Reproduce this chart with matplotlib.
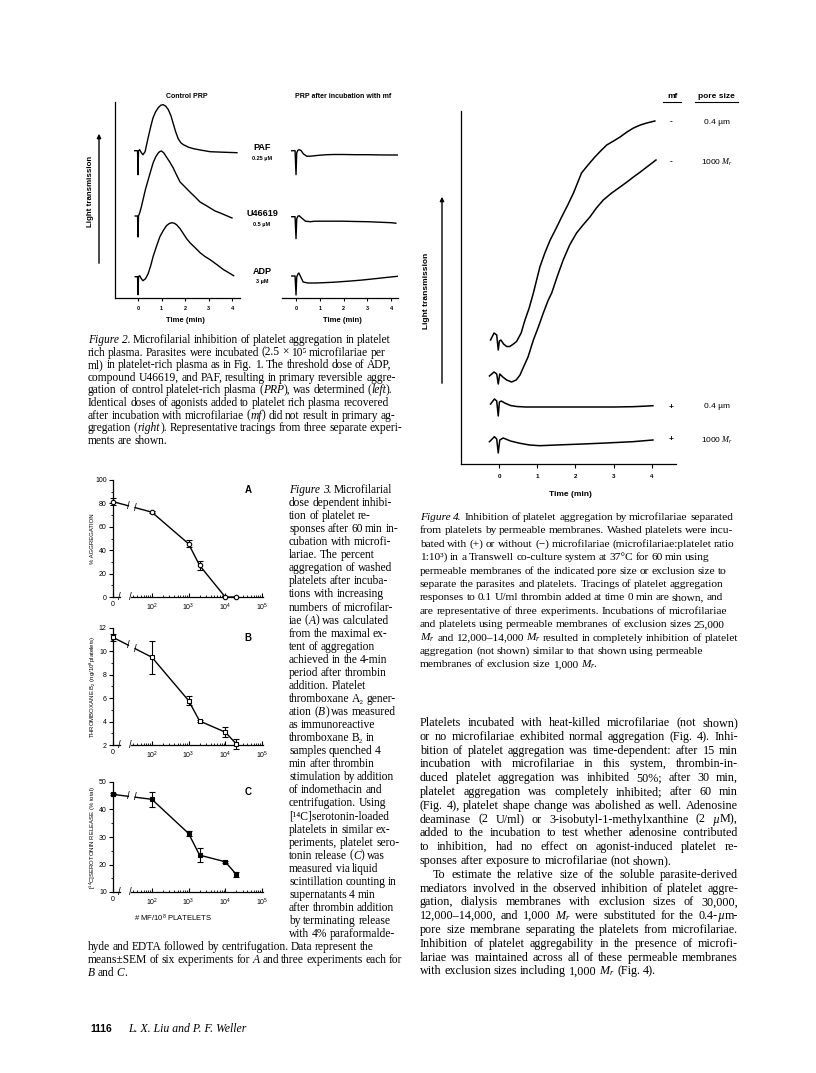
#!/usr/bin/python3
# page 1116: platelet aggregation figures 2-4 with captions and text
import matplotlib
matplotlib.use("Agg")
import matplotlib.pyplot as plt
import numpy as np

W, H = 816, 1073
SERIF = ["Liberation Serif", "DejaVu Serif"]
SANS = "Liberation Sans"

plt.rcParams.update({
    "font.family": [SANS, "DejaVu Sans"],
    "mathtext.fontset": "custom",
    "mathtext.rm": "Liberation Serif",
    "mathtext.it": "Liberation Serif:italic",
    "mathtext.bf": "Liberation Serif:bold",
    "mathtext.sf": SANS,
    "axes.linewidth": 0.9,
})

# ---- Figure 2: aggregometer tracings, time (min) vs deflection (arb. units) ----
f2_agonists = ["PAF", "U46619", "ADP"]
f2_doses = ["0.25 µM", "0.5 µM", "3 µM"]
f2_ctrl_t = [
    [-0.14, -0.02, 0, 0.02, 0.07, 0.14, 0.21, 0.3, 0.43, 0.55, 0.64, 0.75, 0.86, 0.97, 1.07,
     1.18, 1.29, 1.4, 1.5, 1.6, 1.71, 1.82, 1.93, 2.15, 2.36, 2.7, 3.07, 3.6, 4.21],
    [-0.12, -0.02, 0, 0.02, 0.07, 0.14, 0.21, 0.32, 0.43, 0.54, 0.64, 0.75, 0.86, 0.93, 1.0,
     1.1, 1.21, 1.35, 1.5, 1.64, 1.79, 2.0, 2.21, 2.43, 2.64, 2.86, 3.07, 3.28, 3.5, 3.75, 4.0],
    [-0.12, -0.02, 0, 0.02, 0.07, 0.14, 0.21, 0.32, 0.43, 0.54, 0.64, 0.78, 0.93, 1.07, 1.21,
     1.32, 1.43, 1.54, 1.64, 1.79, 1.93, 2.07, 2.21, 2.43, 2.64, 2.86, 3.07, 3.36, 3.64, 3.86, 4.07],
]
f2_ctrl_v = [
    [0, 0, -24, 0, 1, -2, -4, -1, 13, 25, 33, 39, 43, 45.5, 46,
     44.5, 41, 35, 27, 19, 12, 8, 6, 3.5, 2, 0.5, -1, -1.5, -2],
    [0, 0, -21, 0, 3, 9, 16, 27, 36, 45, 53, 59, 63, 64.5, 65,
     63, 59, 54, 48, 41, 34, 29, 24, 19, 14, 11, 8, 5, 3, 0.5, -2],
    [0, 0, -18, 0, 1, -2, -4, -2, 3, 11, 20, 30, 40, 46, 51,
     53, 54, 53.5, 52, 48, 43, 38, 34, 29, 24, 20, 17, 12, 7, 4, 1],
]
f2_mf_t = [
    [-0.18, -0.04, 0, 0.03, 0.08, 0.14, 0.22, 0.3, 0.45, 0.6, 0.8, 1.0, 1.3, 1.6, 2.0, 2.5, 3.0, 3.5, 4.0, 4.3],
    [-0.18, -0.04, 0, 0.03, 0.08, 0.13, 0.22, 0.4, 0.6, 0.8, 1.2, 1.6, 2.0, 2.5, 3.0, 3.5, 4.0, 4.2],
    [-0.18, -0.04, 0, 0.03, 0.08, 0.12, 0.18, 0.3, 0.5, 0.8, 1.15, 1.6, 2.0, 2.3, 2.8, 3.4, 3.9, 4.4],
]
f2_mf_v = [
    [0, 0, -24, -2, 0.5, 1, 0, -3, -5.5, -5.5, -5, -4.5, -4, -3.8, -3.8, -4, -4, -4.2, -4.3, -4.3],
    [0, 0, -22, -2, 0.5, 1, -1, -4.5, -5, -4.5, -4.5, -4.5, -4.5, -4.8, -5, -5.5, -6, -6.5],
    [0, 0, -19, -1, 2, 3, 0, -6, -7, -7, -6.7, -6.2, -5.5, -5, -4, -2.5, -1.2, 0],
]
f2_ctrl_base = [147.3, 82, 21.3]
f2_mf_base = [147.3, 81.3, 22]

# ---- Figure 3: dose response (MF per 10^8 platelets) ----
mf_dose = [0, 1e2, 1e3, 2e3, 1e4, 2e4]
agg_pct = [81.5, 72.5, 45.5, 27, 0, 0]
agg_err = [3, 1, 3, 4, 0, 0]
txb2 = [11.2, 9.5, 5.8, 4.05, 3.1, 2.1]
txb2_err = [0.3, 1.4, 0.35, 0.1, 0.4, 0.4]
sero = [45.5, 43.7, 31.3, 23.4, 21.0, 16.4]
sero_err = [0.4, 2.8, 0.8, 2.5, 0.4, 0.8]

# ---- Figure 4: transwell tracings ----
f4_mf = ["-", "-", "+", "+"]
f4_pore = ["0.4 µm", "1000 $M_r$", "0.4 µm", "1000 $M_r$"]
f4_t = [
    [-0.22, -0.13, -0.06, -0.02, 0.01, 0.05, 0.12, 0.2, 0.28, 0.36, 0.46, 0.58, 0.68, 0.79, 0.9,
     1.07, 1.2, 1.34, 1.5, 1.64, 1.8, 1.95, 2.16, 2.33, 2.51, 2.66, 2.82, 3.0, 3.17, 3.35, 3.52,
     3.7, 3.87, 4.08],
    [-0.25, -0.13, -0.06, -0.02, 0.02, 0.1, 0.2, 0.33, 0.45, 0.55, 0.63, 0.76, 0.9, 1.03, 1.16,
     1.29, 1.38, 1.52, 1.68, 1.85, 2.03, 2.2, 2.38, 2.55, 2.73, 2.95, 3.17, 3.35, 3.52, 3.7, 3.87, 4.11],
    [-0.22, -0.12, -0.06, -0.02, 0.01, 0.06, 0.15, 0.3, 0.46, 0.7, 1.0, 1.5, 2.0, 2.5, 3.0, 3.5, 3.8, 4.03],
    [-0.25, -0.12, -0.06, -0.02, 0.02, 0.11, 0.3, 0.55, 0.8, 1.07, 1.5, 2.2, 2.8, 3.5, 4.03],
]
f4_v = [
    [-2, 5, 3, -12, -3, -2, -6, -8.5, -8.5, -6.5, -3.5, 5, 18, 30, 45,
     71, 85, 98, 110, 121, 133, 145, 165, 173, 181, 187, 193, 197, 201, 206, 210,
     213, 215, 217],
    [-1, 3, 1, -9, 1, -2, -5, -7, -5, 0, 7, 18, 35, 48, 62,
     75, 82, 98, 115, 130, 142, 150, 158, 167, 175, 182, 188, 193, 198, 203, 208, 215],
    [-1, 4, 2, -13, 1, 2, 0, -2.5, -3.5, -4, -4, -4, -4, -4, -4, -3.7, -3.2, -2.7],
    [-1.7, 3.3, 1, -13, 0, 2, -1, -3.3, -5, -5.7, -5, -4, -3, -1.7, 0],
]
f4_base = [126, 89, 61, 24]

# ---- text (*...* = italic) ----
cap2 = [
    "*Figure 2.* Microfilarial inhibition of platelet aggregation in platelet",
    "rich plasma. Parasites were incubated (2.5 × 10⁵ microfilariae per",
    "ml) in platelet-rich plasma as in Fig. 1. The threshold dose of ADP,",
    "compound U46619, and PAF, resulting in primary reversible aggre-",
    "gation of control platelet-rich plasma (*PRP*), was determined (*left*).",
    "Identical doses of agonists added to platelet rich plasma recovered",
    "after incubation with microfilariae (*mf*) did not result in primary ag-",
    "gregation (*right*). Representative tracings from three separate experi-",
    "ments are shown.",
]
cap3 = [
    "*Figure 3.* Microfilarial", "dose dependent inhibi-", "tion of platelet re-",
    "sponses after 60 min in-", "cubation with microfi-", "lariae. The percent",
    "aggregation of washed", "platelets after incuba-", "tions with increasing",
    "numbers of microfilar-", "iae (*A*) was calculated", "from the maximal ex-",
    "tent of aggregation", "achieved in the 4-min", "period after thrombin",
    "addition. Platelet", "thromboxane A₂ gener-", "ation (*B*) was measured",
    "as immunoreactive", "thromboxane B₂ in", "samples quenched 4",
    "min after thrombin", "stimulation by addition", "of indomethacin and",
    "centrifugation. Using", "[¹⁴C]serotonin-loaded", "platelets in similar ex-",
    "periments, platelet sero-", "tonin release (*C*) was", "measured via liquid",
    "scintillation counting in", "supernatants 4 min", "after thrombin addition",
    "by terminating release", "with 4% paraformalde-",
]
cap3_tail = [
    "hyde and EDTA followed by centrifugation. Data represent the",
    "means±SEM of six experiments for *A* and three experiments each for",
    "*B* and *C*.",
]
cap4 = [
    "*Figure 4.* Inhibition of platelet aggregation by microfilariae separated",
    "from platelets by permeable membranes. Washed platelets were incu-",
    "bated with (+) or without (−) microfilariae (microfilariae:platelet ratio",
    "1:10³) in a Transwell co-culture system at 37°C for 60 min using",
    "permeable membranes of the indicated pore size or exclusion size to",
    "separate the parasites and platelets. Tracings of platelet aggregation",
    "responses to 0.1 U/ml thrombin added at time 0 min are shown, and",
    "are representative of three experiments. Incubations of microfilariae",
    "and platelets using permeable membranes of exclusion sizes 25,000",
    "$M_r$ and 12,000–14,000 $M_r$ resulted in completely inhibition of platelet",
    "aggregation (not shown) similar to that shown using permeable",
    "membranes of exclusion size 1,000 $M_r$.",
]
body = [
    "Platelets incubated with heat-killed microfilariae (not shown)",
    "or no microfilariae exhibited normal aggregation (Fig. 4). Inhi-",
    "bition of platelet aggregation was time-dependent: after 15 min",
    "incubation with microfilariae in this system, thrombin-in-",
    "duced platelet aggregation was inhibited 50%; after 30 min,",
    "platelet aggregation was completely inhibited; after 60 min",
    "(Fig. 4), platelet shape change was abolished as well. Adenosine",
    "deaminase (2 U/ml) or 3-isobutyl-1-methylxanthine (2 *µ*M),",
    "added to the incubation to test whether adenosine contributed",
    "to inhibition, had no effect on agonist-induced platelet re-",
    "sponses after exposure to microfilariae (not shown).",
    "To estimate the relative size of the soluble parasite-derived",
    "mediators involved in the observed inhibition of platelet aggre-",
    "gation, dialysis membranes with exclusion sizes of 30,000,",
    "12,000–14,000, and 1,000 $M_r$ were substituted for the 0.4-*µ*m-",
    "pore size membrane separating the platelets from microfilariae.",
    "Inhibition of platelet aggregability in the presence of microfi-",
    "lariae was maintained across all of these permeable membranes",
    "with exclusion sizes including 1,000 $M_r$ (Fig. 4).",
]
body_last = [10, 18]
body_indent = [11]

fig = plt.figure(figsize=(W / 100, H / 100), dpi=100)
page = fig.add_axes([0, 0, 1, 1])
page.set_xlim(0, W)
page.set_ylim(H, 0)
page.axis("off")
renderer = fig.canvas.get_renderer()


def px_axes(x0, y0, x1, y1):
    return fig.add_axes([x0 / W, 1 - y1 / H, (x1 - x0) / W, (y1 - y0) / H])


def bare(ax, left=True):
    for s in ["top", "right"]:
        ax.spines[s].set_visible(False)
    ax.spines["left"].set_visible(left)
    ax.set_yticks([])
    ax.patch.set_alpha(0)


def serif_line(x, y, s, size, right=None):
    # words laid out one by one; right edge given -> justified
    italic = False
    placed = []
    for w in s.split(" "):
        segs = []
        for k, part in enumerate(w.split("*")):
            if k > 0:
                italic = not italic
            if part:
                t = page.text(0, y, part, fontsize=size, family=SERIF,
                              style="italic" if italic else "normal", ha="left", va="baseline")
                segs.append((t, t.get_window_extent(renderer).width))
        placed.append(segs)
    widths = [sum(w for _, w in segs) for segs in placed]
    if right is None:
        gap = 0.22 * size * 100 / 72
    else:
        gap = (right - x - sum(widths)) / (len(placed) - 1)
    cx = x
    for segs, ww in zip(placed, widths):
        for t, w in segs:
            t.set_x(cx)
            cx += w
        cx += gap


# ---- Figure 2 ----
f2_axes = [px_axes(115, 102, 240, 298), px_axes(282, 102, 398, 298)]
f2_axes[0].set_xlim(-0.98, 4.34)
f2_axes[1].set_xlim(-0.59, 4.29)
for ax, tt, vv, bb, left in [(f2_axes[0], f2_ctrl_t, f2_ctrl_v, f2_ctrl_base, True),
                             (f2_axes[1], f2_mf_t, f2_mf_v, f2_mf_base, False)]:
    bare(ax, left)
    ax.set_ylim(0, 196)
    for t, v, b in zip(tt, vv, bb):
        ax.plot(t, np.array(v) + b, color="black", lw=1.0)
    ax.set_xticks([0, 1, 2, 3, 4])
    ax.tick_params(axis="x", length=2.5, width=0.8, pad=3, labelsize=4)
    for lab in ax.get_xticklabels():
        lab.set_fontweight("bold")

page.text(187, 97, "Control PRP", fontsize=5, fontweight="bold", ha="center", va="center")
page.text(343, 97, "PRP after incubation with mf", fontsize=5, fontweight="bold", ha="center", va="center")
for name, dose, yc in zip(f2_agonists, f2_doses, [148, 214, 271]):
    page.text(262, yc, name, fontsize=6.5, fontweight="bold", ha="center", va="center")
    page.text(262, yc + 10.5, dose, fontsize=4, fontweight="bold", ha="center", va="center")
page.text(185, 320, "Time (min)", fontsize=5.5, fontweight="bold", ha="center", va="center")
page.text(342, 320, "Time (min)", fontsize=5.5, fontweight="bold", ha="center", va="center")
page.text(91, 191, "Light transmission", fontsize=5.7, fontweight="bold", rotation=90, ha="center", va="center")
page.annotate("", xy=(99, 131), xytext=(99, 266),
              arrowprops=dict(arrowstyle="-|>", lw=1.0, color="black", mutation_scale=6))

for i, s in enumerate(cap2):
    serif_line(88, 343 + i * 12.6, s, 8.3)

# ---- Figure 3 ----
U0 = 0.94


def dose_pos(d):
    return U0 if d == 0 else np.log10(d)


def dose_panel(box, vals, errs, ylim, ymaj, ymin, marker, filled, letter, ylabel):
    ax = px_axes(*box)
    for s in ["top", "right", "bottom"]:
        ax.spines[s].set_visible(False)
    ax.patch.set_alpha(0)
    ax.set_xlim(U0, 5.03)
    ax.set_ylim(*ylim)
    u = [dose_pos(d) for d in mf_dose]
    y0 = ylim[0]
    # broken x axis
    ax.plot([U0, 1.12], [y0, y0], color="black", lw=0.9, clip_on=False)
    ax.plot([1.42, 5.03], [y0, y0], color="black", lw=0.9, clip_on=False)
    for bu in [1.12, 1.42]:
        ax.text(bu, y0, "/", fontsize=7, ha="center", va="center")
    # broken data line between 0 and 10^2
    b1, b2 = 1.36, 1.54
    f = lambda uu: vals[0] + (vals[1] - vals[0]) * (uu - u[0]) / (u[1] - u[0])
    ax.plot([u[0], b1], [vals[0], f(b1)], color="black", lw=1.0, clip_on=False)
    ax.plot([b2, u[1]], [f(b2), vals[1]], color="black", lw=1.0, clip_on=False)
    for bu in [b1, b2]:
        ax.text(bu, f(bu), "/", fontsize=7, ha="center", va="center")
    ax.plot(u[1:], vals[1:], color="black", lw=1.0, clip_on=False)
    ax.errorbar(u, vals, yerr=errs, fmt=marker, ms=3.2, mew=0.8, color="black",
                mfc="black" if filled else "white", ecolor="black", elinewidth=0.8,
                capsize=2, capthick=0.8, clip_on=False, zorder=3)
    ax.set_yticks(ymaj)
    ax.set_yticks(ymin, minor=True)
    ax.set_xticks([U0, 2, 3, 4, 5])
    ax.set_xticklabels(["0", r"$\mathsf{10}^{\mathsf{2}}$", r"$\mathsf{10}^{\mathsf{3}}$",
                        r"$\mathsf{10}^{\mathsf{4}}$", r"$\mathsf{10}^{\mathsf{5}}$"])
    minors = [np.log10(k * 10 ** n) for n in [1, 2, 3, 4] for k in range(2, 10) if k * 10 ** n >= 30]
    ax.set_xticks(minors, minor=True)
    ax.tick_params(axis="y", which="major", length=3, width=0.8, pad=1.5, labelsize=5)
    ax.tick_params(axis="y", which="minor", length=1.6, width=0.6)
    ax.tick_params(axis="x", which="major", direction="in", length=3, width=0.8, pad=3, labelsize=5)
    ax.tick_params(axis="x", which="minor", direction="in", length=1.8, width=0.6)
    page.text(box[2] - 15, box[1] + 10, letter, fontsize=7, fontweight="bold", ha="center", va="center")
    page.text(93, (box[1] + box[3]) / 2, ylabel, fontsize=4.3, rotation=90, ha="center", va="center")
    return ax


dose_panel((113, 480, 263, 597), agg_pct, agg_err, (0, 100), range(0, 101, 20), range(10, 100, 20),
           "o", False, "A", "% AGGREGATION")
dose_panel((113, 628, 263, 745), txb2, txb2_err, (2, 12), range(2, 13, 2), range(3, 12, 2),
           "s", False, "B", r"THROMBOXANE B$_{\mathsf{2}}$ (ng/10$^{\mathsf{8}}$platelets)")
dose_panel((113, 782, 263, 892), sero, sero_err, (10, 50), range(10, 51, 10), range(15, 50, 10),
           "s", True, "C", r"[$^{\mathsf{14}}$C]SEROTONIN RELEASE (% total)")
page.text(173, 918, r"# MF/10$^{\mathsf{8}}$ PLATELETS", fontsize=5.5, ha="center", va="center")

for i, s in enumerate(cap3):
    serif_line(289, 493 + i * 13.06, s, 8.3)
for i, s in enumerate(cap3_tail):
    serif_line(88, 493 + (len(cap3) + i) * 13.06, s, 8.3)

# ---- Figure 4 ----
ax4 = px_axes(461, 111, 676, 464)
bare(ax4)
ax4.set_xlim(-0.995, 4.634)
ax4.set_ylim(0, 353)
for t, v, b in zip(f4_t, f4_v, f4_base):
    ax4.plot(t, np.array(v) + b, color="black", lw=1.1)
ax4.set_xticks([0, 1, 2, 3, 4])
ax4.tick_params(axis="x", length=3, width=0.8, pad=4, labelsize=4.5)
for lab in ax4.get_xticklabels():
    lab.set_fontweight("bold")

page.text(570, 494, "Time (min)", fontsize=6, fontweight="bold", ha="center", va="center")
page.text(427, 291, "Light transmission", fontsize=6, fontweight="bold", rotation=90, ha="center", va="center")
page.annotate("", xy=(442, 194), xytext=(442, 386),
              arrowprops=dict(arrowstyle="-|>", lw=1.0, color="black", mutation_scale=6))
page.text(672, 96, "mf", fontsize=6, fontweight="bold", ha="center", va="center")
page.text(716, 96, "pore size", fontsize=6, fontweight="bold", ha="center", va="center")
page.plot([663, 681], [102, 102], color="black", lw=0.8)
page.plot([695, 738], [102, 102], color="black", lw=0.8)
for m, p, yc in zip(f4_mf, f4_pore, [122, 162, 407, 440]):
    page.text(671, yc, m, fontsize=6, fontweight="bold", ha="center", va="center")
    page.text(717, yc, p, fontsize=6, ha="center", va="center")

for i, s in enumerate(cap4):
    serif_line(420, 520 + i * 13.4, s, 8.2)

# ---- body text ----
for i, s in enumerate(body):
    x = 433 if i in body_indent else 420
    serif_line(x, 726 + i * 13.8, s, 8.75, None if i in body_last else 738)

# ---- footer ----
page.text(90, 1032, "1116", fontsize=7.5, fontweight="bold", ha="left", va="baseline")
page.text(128, 1032, "L. X. Liu and P. F. Weller", fontsize=8.5, family=SERIF, style="italic",
          ha="left", va="baseline")

fig.savefig("out.png", dpi=100)
